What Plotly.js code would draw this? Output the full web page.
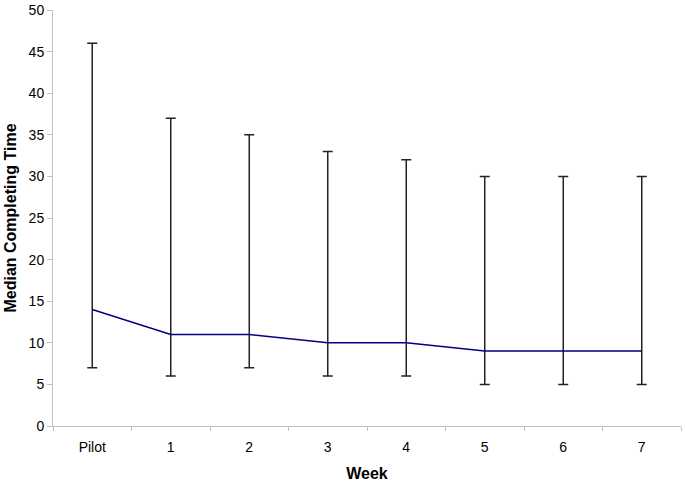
<!DOCTYPE html>
<html><head><meta charset="utf-8">
<script src="https://cdn.plot.ly/plotly-3.0.1.min.js"></script>
<style>html,body{margin:0;padding:0;background:#fff;}#chart{width:685px;height:486px;}</style>
</head><body><div id="chart"></div>
<script>
var weeks = ["Pilot", "1", "2", "3", "4", "5", "6", "7"];
var medianTime = [14, 11, 11, 10, 10, 9, 9, 9];
var maxTime = [46, 37, 35, 33, 32, 30, 30, 30];
var minTime = [7, 6, 7, 6, 6, 5, 5, 5];
var yTicks = [0, 5, 10, 15, 20, 25, 30, 35, 40, 45, 50];

var plus = maxTime.map(function(v, i){ return v - medianTime[i]; });
var minus = minTime.map(function(v, i){ return medianTime[i] - v; });

var trace = {
  x: weeks, y: medianTime, type: 'scatter', mode: 'lines',
  line: {color: '#000080', width: 1.5},
  error_y: {type: 'data', symmetric: false, array: plus, arrayminus: minus,
    color: '#222222', thickness: 1.5, width: 5},
  hoverinfo: 'none'
};
var fam = 'Liberation Sans, Arial, sans-serif';
var font = {family: fam, size: 14, color: '#000'};
var titleFont = {family: fam, size: 16, color: '#000'};
var layout = {
  width: 685, height: 486,
  margin: {l: 53, r: 4, t: 10, b: 60},
  paper_bgcolor: '#fff', plot_bgcolor: '#fff',
  showlegend: false,
  font: font,
  xaxis: {
    type: 'category', range: [-0.5, 7.5], showgrid: false, zeroline: false,
    showline: true, linecolor: '#c0c0c0', linewidth: 1,
    ticks: 'outside', tickson: 'boundaries', ticklen: 4, tickcolor: '#c0c0c0',
    ticklabelstandoff: 8,
    tickfont: font,
    title: {text: '<b>Week</b>', font: titleFont, standoff: 14}
  },
  yaxis: {
    range: [0, 50], tickvals: yTicks, showgrid: false, zeroline: false,
    showline: true, linecolor: '#c0c0c0', linewidth: 1,
    ticks: 'outside', ticklen: 5, tickcolor: '#c0c0c0',
    tickfont: font,
    title: {text: '<b>Median Completing Time</b>', font: titleFont, standoff: 8}
  }
};
Plotly.newPlot('chart', [trace], layout, {staticPlot: true, displayModeBar: false});
</script></body></html>
